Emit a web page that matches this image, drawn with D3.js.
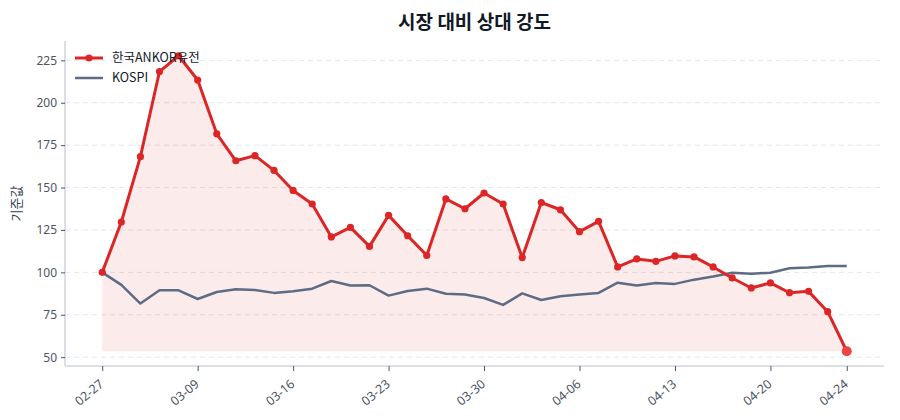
<!DOCTYPE html>
<html>
<head>
<meta charset="utf-8">
<script src="https://cdn.jsdelivr.net/npm/d3@7"></script>
<style>
  body { margin: 0; background: #fff; }
  svg { font-family: "Noto Sans CJK KR", "Noto Sans", sans-serif; }
</style>
</head>
<body>
<div id="chart"></div>
<script>
// trading days (MM-DD)
var dates = ["02-27","03-03","03-04","03-05","03-06","03-09","03-10","03-11","03-12","03-13",
             "03-16","03-17","03-18","03-19","03-20","03-23","03-24","03-25","03-26","03-27",
             "03-30","03-31","04-01","04-02","04-03","04-06","04-07","04-08","04-09","04-10",
             "04-13","04-14","04-15","04-16","04-17","04-20","04-21","04-22","04-23","04-24"];

// rebased to 100 on the first day
var stockValues = [100, 129.7, 168.2, 218.4, 227.7, 213.4, 181.7, 165.8, 168.8, 160.1,
                   148.3, 140.3, 120.9, 126.5, 115.3, 133.6, 121.6, 110.0, 143.3, 137.5,
                   146.8, 140.3, 108.7, 141.2, 136.9, 124.0, 130.1, 103.2, 107.9, 106.5,
                   109.7, 109.1, 103.2, 96.7, 90.8, 93.8, 88.0, 88.8, 76.8, 53.5];

var kospiValues = [100, 92.6, 81.6, 89.4, 89.4, 84.3, 88.4, 90.0, 89.6, 87.9,
                   88.8, 90.4, 94.9, 92.2, 92.4, 86.3, 89.0, 90.4, 87.4, 86.9,
                   84.9, 80.8, 87.6, 83.7, 85.9, 87.0, 87.9, 93.9, 92.2, 93.7,
                   93.2, 95.7, 97.6, 99.8, 99.2, 99.8, 102.4, 102.9, 103.8, 103.8];

var seriesNames = ["한국ANKOR유전", "KOSPI"];
var yTicks = [50, 75, 100, 125, 150, 175, 200, 225];
var xTickLabels = ["02-27","03-09","03-16","03-23","03-30","04-06","04-13","04-20","04-24"];

var W = 900, H = 420;
var margin = {top: 41, right: 16, bottom: 54, left: 65};
var width = W - margin.left - margin.right,
    height = H - margin.top - margin.bottom;

var svg = d3.select("#chart").append("svg")
    .attr("width", W).attr("height", H);

var g = svg.append("g")
    .attr("transform", "translate(" + margin.left + "," + margin.top + ")");

// scalePoint padding is in step units; 5% of span on each side
var x = d3.scalePoint()
    .domain(dates)
    .range([0, width])
    .padding(0.05 * (dates.length - 1));

var allVals = stockValues.concat(kospiValues);
var yMin = d3.min(allVals), yMax = d3.max(allVals), pad = (yMax - yMin) * 0.05;
var y = d3.scaleLinear()
    .domain([yMin - pad, yMax + pad])
    .range([height, 0]);

// grid
g.append("g")
  .selectAll("line")
  .data(yTicks)
  .enter().append("line")
    .attr("x1", 0).attr("x2", width)
    .attr("y1", function(d){ return y(d); })
    .attr("y2", function(d){ return y(d); })
    .attr("stroke", "#e5e7eb")
    .attr("stroke-width", 1)
    .attr("stroke-dasharray", "5,4");

// fill under the stock line down to its minimum
var base = d3.min(stockValues);
var area = d3.area()
    .x(function(d, i){ return x(dates[i]); })
    .y0(y(base))
    .y1(function(d){ return y(d); });
g.append("path")
    .datum(stockValues)
    .attr("d", area)
    .attr("fill", "#dc2626")
    .attr("fill-opacity", 0.09);

var line = d3.line()
    .x(function(d, i){ return x(dates[i]); })
    .y(function(d){ return y(d); });

g.append("path")
    .datum(kospiValues)
    .attr("d", line)
    .attr("fill", "none")
    .attr("stroke", "#5d6c84")
    .attr("stroke-width", 2.5)
    .attr("stroke-linejoin", "round");

g.append("path")
    .datum(stockValues)
    .attr("d", line)
    .attr("fill", "none")
    .attr("stroke", "#dc2626")
    .attr("stroke-width", 3)
    .attr("stroke-linejoin", "round");

g.append("g")
  .selectAll("circle")
  .data(stockValues.slice(0, -1))
  .enter().append("circle")
    .attr("cx", function(d, i){ return x(dates[i]); })
    .attr("cy", function(d){ return y(d); })
    .attr("r", 3.6)
    .attr("fill", "#dc2626");

// last point highlighted
var last = stockValues.length - 1;
g.append("circle")
    .attr("cx", x(dates[last]))
    .attr("cy", y(stockValues[last]))
    .attr("r", 5)
    .attr("fill", "#ef4444");

// axes
var yAxis = g.append("g")
    .call(d3.axisLeft(y).tickValues(yTicks).tickSize(4).tickPadding(4));
var xAxis = g.append("g")
    .attr("transform", "translate(0," + height + ")")
    .call(d3.axisBottom(x).tickValues(xTickLabels).tickSize(5).tickSizeOuter(0));

[yAxis, xAxis].forEach(function(a){
  a.select(".domain").attr("stroke", "#d1d5db").attr("stroke-width", 1.5);
  a.selectAll(".tick line").attr("stroke", "#4b5563");
  a.selectAll("text").attr("fill", "#4b5563").style("font-size", "12px")
    .style("font-family", "'Noto Sans', 'Noto Sans CJK KR', sans-serif");
});
yAxis.select(".domain").attr("d", "M0,0V" + height);
xAxis.select(".domain").attr("d", "M0,0H" + width);

xAxis.selectAll("text")
    .attr("text-anchor", "end")
    .attr("x", 0)
    .attr("y", 0)
    .attr("dy", "0.35em")
    .style("font-size", "12.5px")
    .attr("transform", "translate(-1,16) rotate(-40)");

// y label
svg.append("text")
    .attr("transform", "translate(21," + (margin.top + height / 2) + ") rotate(-90)")
    .attr("text-anchor", "middle")
    .attr("fill", "#374151")
    .style("font-size", "13px")
    .text("기준값");

// title
svg.append("text")
    .attr("x", margin.left + width / 2)
    .attr("y", 29)
    .attr("text-anchor", "middle")
    .attr("fill", "#111827")
    .style("font-size", "19px")
    .style("font-weight", "bold")
    .text("시장 대비 상대 강도");

// legend
var legend = g.append("g").attr("transform", "translate(10,17)");
var lg = legend.selectAll("g")
  .data(seriesNames)
  .enter().append("g")
    .attr("transform", function(d, i){ return "translate(0," + (i * 20) + ")"; });
lg.append("line")
    .attr("x1", 0).attr("x2", 28).attr("y1", 0).attr("y2", 0)
    .attr("stroke", function(d, i){ return i === 0 ? "#dc2626" : "#5d6c84"; })
    .attr("stroke-width", function(d, i){ return i === 0 ? 3 : 2.5; });
lg.filter(function(d, i){ return i === 0; })
  .append("circle")
    .attr("cx", 14).attr("cy", 0).attr("r", 3.6)
    .attr("fill", "#dc2626");
lg.append("text")
    .attr("x", 37).attr("y", 0).attr("dy", "0.35em")
    .attr("fill", "#111827")
    .style("font-size", "12.5px")
    .text(function(d){ return d; });
</script>
</body>
</html>
